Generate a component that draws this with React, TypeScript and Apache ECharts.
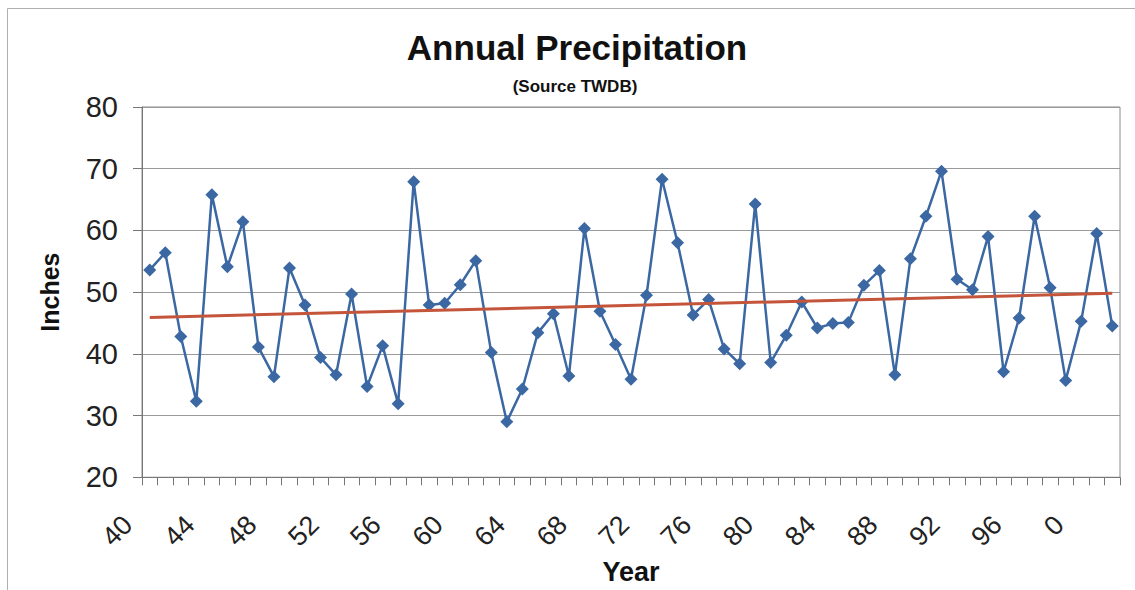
import React, { useEffect, useRef } from "react";
import * as echarts from "echarts";

const yearLabels = [
  "40", "41", "42", "43", "44", "45", "46", "47", "48", "49",
  "50", "51", "52", "53", "54", "55", "56", "57", "58", "59",
  "60", "61", "62", "63", "64", "65", "66", "67", "68", "69",
  "70", "71", "72", "73", "74", "75", "76", "77", "78", "79",
  "80", "81", "82", "83", "84", "85", "86", "87", "88", "89",
  "90", "91", "92", "93", "94", "95", "96", "97", "98", "99",
  "0", "1", "2",
];

const precipitation = [
  53.6, 56.4, 42.8, 32.3, 65.8, 54.1, 61.4, 41.1, 36.3, 53.9,
  47.9, 39.4, 36.6, 49.7, 34.7, 41.3, 31.9, 67.9, 47.9, 48.2,
  51.2, 55.1, 40.2, 29.0, 34.3, 43.4, 46.5, 36.4, 60.3, 46.9,
  41.5, 35.9, 49.5, 68.3, 58.0, 46.3, 48.8, 40.8, 38.4, 64.3,
  38.6, 43.0, 48.4, 44.2, 44.9, 45.1, 51.1, 53.5, 36.6, 55.4,
  62.3, 69.6, 52.1, 50.4, 59.0, 37.1, 45.8, 62.3, 50.7, 35.7,
  45.3, 59.5, 44.5,
];

const trendStart = 45.9;
const trendEnd = 49.8;

const titleText = "Annual Precipitation";
const subtitleText = "(Source TWDB)";

const FONT = "'Liberation Sans', Arial, sans-serif";

export default function App() {
  const ref = useRef<HTMLDivElement>(null);

  useEffect(() => {
    document.body.style.margin = "0";
    const chart = echarts.init(ref.current!, null, { renderer: "svg", width: 1135, height: 590 });
    chart.setOption({
      animation: false,
      backgroundColor: "#ffffff",
      textStyle: { fontFamily: FONT },
      graphic: [
        {
          type: "rect",
          silent: true,
          shape: { x: 7.5, y: 8.5, width: 1200, height: 700 },
          style: { fill: "none", stroke: "#b0b0b0", lineWidth: 1 },
        },
        {
          type: "text",
          x: 577,
          y: 47,
          style: {
            text: titleText,
            font: `bold 35px ${FONT}`,
            fill: "#111",
            textAlign: "center",
            textVerticalAlign: "middle",
          },
        },
        {
          type: "text",
          x: 575,
          y: 86,
          style: {
            text: subtitleText,
            font: `bold 17px ${FONT}`,
            fill: "#111",
            textAlign: "center",
            textVerticalAlign: "middle",
          },
        },
      ],
      grid: {
        left: 142,
        right: 15,
        top: 107,
        bottom: 105,
        show: true,
        borderColor: "#8a8a8a",
        borderWidth: 1,
      },
      xAxis: {
        type: "category",
        data: yearLabels,
        boundaryGap: true,
        name: "Year",
        nameLocation: "middle",
        nameGap: 63,
        nameTextStyle: { fontSize: 27, fontWeight: "bold", color: "#111", fontFamily: FONT },
        axisLine: { show: true, lineStyle: { color: "#777", width: 1 } },
        axisTick: { show: true, interval: 0, length: 8, inside: false, lineStyle: { color: "#777" } },
        axisLabel: {
          interval: 3,
          rotate: 45,
          margin: 21,
          padding: [0, 31, 0, 0],
          fontSize: 27,
          color: "#222",
          fontFamily: FONT,
        },
        splitLine: { show: false },
      },
      yAxis: {
        type: "value",
        min: 20,
        max: 80,
        interval: 10,
        name: "Inches",
        nameLocation: "middle",
        nameRotate: 90,
        nameGap: 80,
        nameTextStyle: { fontSize: 25, fontWeight: "bold", color: "#111", fontFamily: FONT },
        axisLine: { show: true, lineStyle: { color: "#777", width: 1 } },
        axisTick: { show: true, length: 9, lineStyle: { color: "#777" } },
        axisLabel: { margin: 24, fontSize: 29, color: "#222", fontFamily: FONT },
        splitLine: { show: true, lineStyle: { color: "#9a9a9a", width: 1 } },
      },
      series: [
        {
          name: "Precipitation",
          type: "line",
          data: precipitation,
          symbol: "diamond",
          symbolSize: 13,
          showSymbol: true,
          showAllSymbol: true,
          itemStyle: { color: "#3b68a3" },
          lineStyle: { color: "#3b68a3", width: 2.5 },
          z: 3,
        },
        {
          name: "Linear trend",
          type: "line",
          data: [],
          markLine: {
            silent: true,
            symbol: ["none", "none"],
            label: { show: false },
            lineStyle: { color: "#c4553b", width: 3, type: "solid" },
            data: [
              [
                { coord: [yearLabels[0], trendStart] },
                { coord: [yearLabels[yearLabels.length - 1], trendEnd] },
              ],
            ],
          },
          z: 2,
        },
      ],
    });
    return () => chart.dispose();
  }, []);

  return <div ref={ref} style={{ width: 1135, height: 590 }} />;
}
